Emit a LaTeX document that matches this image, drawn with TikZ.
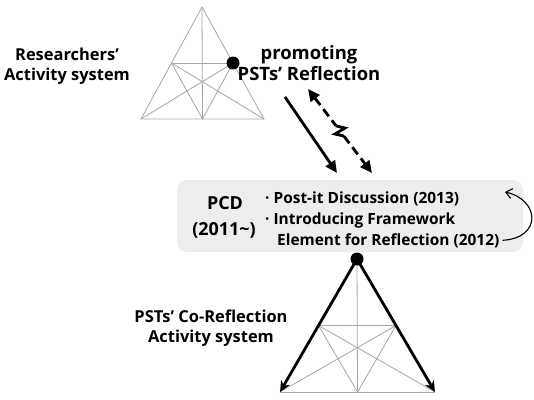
\documentclass[tikz,border=0pt]{standalone}
\usepackage{fontspec}
\setmainfont{Open Sans}[BoldFont={Open Sans Bold}]
\usetikzlibrary{arrows.meta,calc}

\begin{document}
\begin{tikzpicture}[x=1bp,y=-1bp,
  grid line/.style={draw=black!35, line width=0.8bp},
  heavy/.style={draw=black, line width=2.8bp},
  bigtext/.style={font=\fontsize{16.5}{20.5}\selectfont\bfseries, align=center, inner sep=0},
  boxtext/.style={font=\fontsize{15.5}{20}\selectfont\bfseries, inner sep=0},
  dot/.style={circle, fill=black, inner sep=0, minimum size=13bp},
  head/.style={-{Triangle[length=12bp,width=11bp]}},
]
\useasboundingbox (0,0) rectangle (534,399);

% ---- researchers' activity triangle ----
\coordinate (ta) at (202,7);
\coordinate (tl) at (141,119);
\coordinate (tr) at (264,119);
\coordinate (tm) at ($(tl)!0.5!(tr)$);
\coordinate (tml) at ($(ta)!0.5!(tl)$);
\coordinate (tmr) at ($(ta)!0.5!(tr)$);
\draw[grid line] (ta) -- (tl) -- (tr) -- cycle;
\draw[grid line] (ta) -- (tm);
\draw[grid line] (tml) -- (tmr);
\draw[grid line] (tml) -- (tm) -- (tmr);
\draw[grid line] (tml) -- (tr);
\draw[grid line] (tmr) -- (tl);
\node[dot] (tdot) at (tmr) {};

\node[bigtext] (res) at (67,66) {Researchers’\\Activity system};
\node[bigtext, font=\fontsize{18.5}{21}\selectfont\bfseries] (prom) at (309,63) {promoting\\PSTs’ Reflection};

% ---- arrows between the two systems ----
\coordinate (s1) at (285,97);
\coordinate (s2) at (337,173);
\draw[heavy, head] (s1) -- (s2);

\coordinate (d1) at (308,89);
\coordinate (d2) at (372,173);
\coordinate (dz1) at ($(d1)!0.44!(d2)$);
\coordinate (dz2) at ($(d1)!0.56!(d2)$);
\draw[heavy, dash pattern=on 9bp off 5bp, {Triangle[length=12bp,width=11bp]}-] (d1) -- (dz1);
\draw[heavy, dash pattern=on 9bp off 5bp, -{Triangle[length=12bp,width=11bp]}] (dz2) -- (d2);
\draw[heavy, line join=miter] (dz1) -- ($(dz1)!0.5!(dz2)+(5,-3)$) -- ($(dz1)!0.5!(dz2)+(-5,3)$) -- (dz2);

% ---- PCD box ----
\node[fill=black!7, rounded corners=10bp, minimum width=346bp, minimum height=72bp, inner sep=0]
  (box) at (350,216) {};
\node[boxtext, font=\fontsize{18}{22}\selectfont\bfseries] (pcd) at (225,203) {PCD};
\node[boxtext, font=\fontsize{18}{22}\selectfont\bfseries] (year) at (224,230) {(2011\textasciitilde)};
\node[boxtext, anchor=base west] (b1) at (265,203) {·\ Post-it Discussion (2013)};
\node[boxtext, anchor=base west] (b2) at (265,224) {·\ Introducing Framework};
\node[boxtext, anchor=base west] (b3) at (277,245) {Element for Reflection (2012)};

\coordinate (c1) at ([xshift=3bp]b3.east);
\coordinate (c2) at (505,192);
\draw[line width=1.1bp, -{Straight Barb[length=6bp,width=10bp]}]
  (c1) .. controls (542,238) and (540,200) .. (c2);

% ---- PSTs' co-reflection activity triangle ----
\coordinate (ba) at (357,259);
\coordinate (bl) at (280,392);
\coordinate (br) at (435,392);
\coordinate (bm) at ($(bl)!0.5!(br)$);
\coordinate (bml) at ($(ba)!0.5!(bl)$);
\coordinate (bmr) at ($(ba)!0.5!(br)$);
\draw[grid line] (bl) -- (br);
\draw[grid line] (ba) -- (bm);
\draw[grid line] (bml) -- (bmr);
\draw[grid line] (bml) -- (bm) -- (bmr);
\draw[grid line] (bml) -- (br);
\draw[grid line] (bmr) -- (bl);
\draw[heavy, -{Stealth[length=11bp,width=10bp]}] (ba) -- (bl);
\draw[heavy, -{Stealth[length=11bp,width=10bp]}] (ba) -- (br);
\node[dot] (bdot) at (ba) {};

\node[bigtext] (pst) at (211,328) {PSTs’ Co-Reflection\\Activity system};
\end{tikzpicture}
\end{document}
